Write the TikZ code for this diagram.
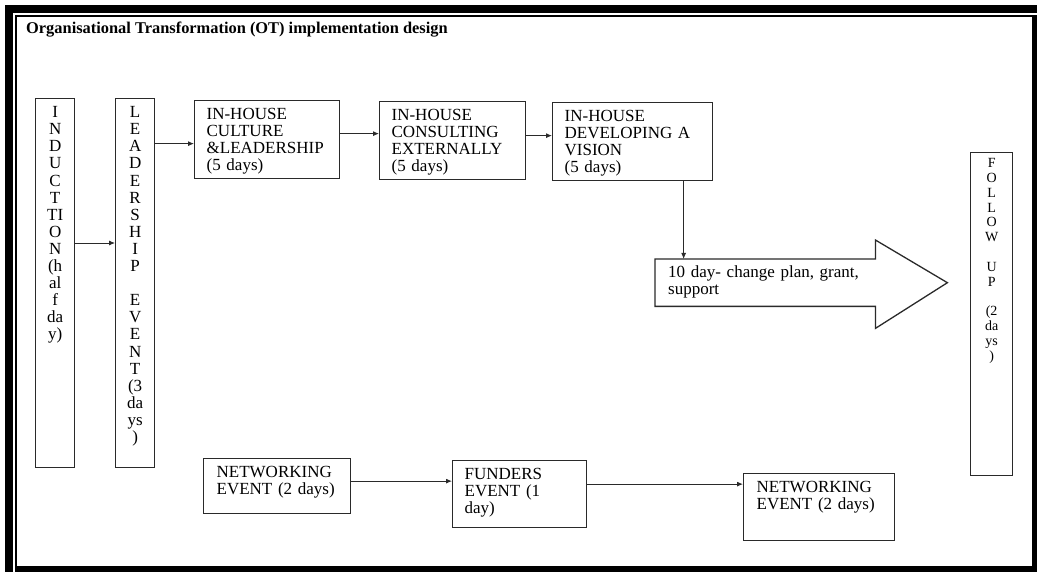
\documentclass[tikz,border=0pt]{standalone}
\usepackage{fontspec}
\setmainfont{Liberation Serif}
\usetikzlibrary{arrows.meta, positioning}

\definecolor{linegray}{HTML}{2A2A2A}

\begin{document}
\begin{tikzpicture}[
x=1pt, y=-1pt,
every node/.style={font=\fontsize{17}{17.1}\selectfont, text=black},
title/.style={anchor=base west, inner sep=0pt, font=\fontsize{16.4}{18}\selectfont\bfseries},
box/.style={rectangle, draw=linegray, line width=1.3pt, anchor=north west, align=left, inner xsep=12pt, inner ysep=6pt, text height=13pt},
tallbox/.style={rectangle, draw=linegray, line width=1.3pt, anchor=north west, align=center, inner xsep=0pt, inner ysep=6pt, text height=13pt},
arrow/.style={-{Latex[length=6pt,width=5pt]}, line width=0.9pt, draw=linegray},
outline/.style={draw=linegray, line width=1.3pt}
]

\useasboundingbox (0,0) rectangle (1037,572);

% frame
\fill[black] (5,5) rectangle (1037,13);
\fill[black] (5,5) rectangle (13,572);
\fill[black] (15,15) rectangle (1037,17);
\fill[black] (15,15) rectangle (17,572);
\fill[black] (1032,15) rectangle (1037,572);
\fill[black] (15,566) rectangle (1037,572);

\node[title] (title) at (26,34) {Organisational Transformation (OT) implementation design};

\node[tallbox, text width=39pt, text depth=344pt] (induct) at (35,98)
  {I\\N\\D\\U\\C\\T\\TI\\O\\N\\(h\\al\\f\\da\\y)};
\node[tallbox, text width=39pt, text depth=344pt] (lead) at (115,98)
  {L\\E\\A\\D\\E\\R\\S\\H\\I\\P\\\mbox{}\\E\\V\\E\\N\\T\\(3\\da\\ys\\)};

\node[box, text width=121pt, text depth=53pt] (culture) at (194,100)
  {IN-HOUSE\\CULTURE\\\&LEADERSHIP\\(5 days)};
\node[box, text width=122pt, text depth=53pt] (consult) at (379,101)
  {IN-HOUSE\\CONSULTING\\EXTERNALLY\\(5 days)};
\node[box, text width=136pt, text depth=53pt] (vision) at (552,102)
  {IN-HOUSE\\DEVELOPING A\\VISION\\(5 days)};

\node[anchor=north west, align=left, inner xsep=13pt, inner ysep=6pt, text height=12pt,
  text width=194pt, text depth=23pt] (plan) at (655,259)
  {10 day- change plan, grant,\\support};
\draw[outline] (plan.north west) -- (plan.north east) -- ([yshift=19pt]plan.north east)
  -- ([xshift=72pt]plan.east) -- ([yshift=-22pt]plan.south east) -- (plan.south east)
  -- (plan.south west) -- cycle;

\node[tallbox, text width=42pt, inner ysep=5pt, text height=10pt, text depth=303pt,
  font=\fontsize{14}{14.8}\selectfont] (follow) at (970,152)
  {F\\O\\L\\L\\O\\W\\\mbox{}\\U\\P\\\mbox{}\\(2\\da\\ys\\)};

\node[box, inner xsep=13pt, text width=121pt, text depth=30pt] (net1) at (203,458)
  {NETWORKING\\EVENT (2 days)};
\node[box, text width=110pt, text depth=42pt] (funders) at (452,460)
  {FUNDERS\\EVENT (1\\day)};
\node[box, inner xsep=13pt, text width=125pt, text depth=42pt] (net3) at (743,473)
  {NETWORKING\\EVENT (2 days)};

\coordinate (c1) at ([yshift=-145pt]induct.north east);
\coordinate (c2) at ([yshift=-4pt]culture.west);
\coordinate (c3) at ([yshift=7pt]consult.west);
\coordinate (c4) at ([yshift=6pt]vision.west);
\coordinate (c5) at ([xshift=51pt]vision.south);
\coordinate (c6) at ([yshift=5pt]net1.east);
\coordinate (c7) at ([yshift=10pt]funders.east);

\draw[arrow] (c1) -- (c1 -| lead.west);
\draw[arrow] (lead.east |- c2) -- (c2);
\draw[arrow] (culture.east |- c3) -- (c3);
\draw[arrow] (consult.east |- c4) -- (c4);
\draw[arrow] (c5) -- (c5 |- plan.north);
\draw[arrow] (c6) -- (c6 -| funders.west);
\draw[arrow] (c7) -- (c7 -| net3.west);

\end{tikzpicture}
\end{document}
